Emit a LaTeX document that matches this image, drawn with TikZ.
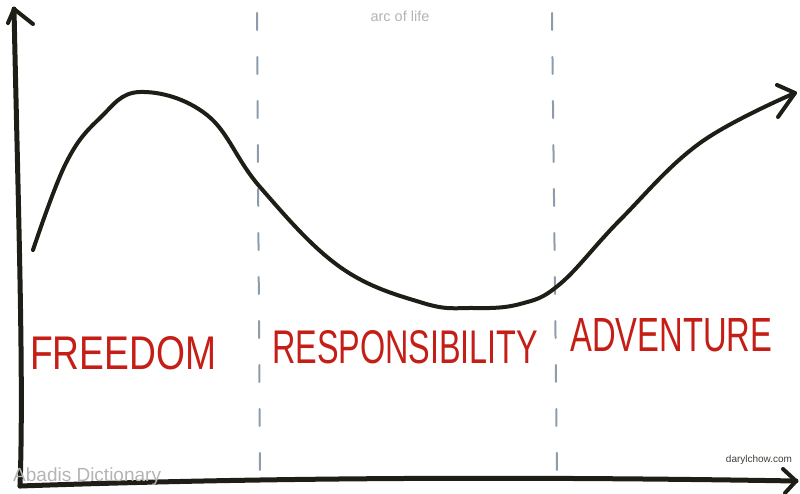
\documentclass[tikz,border=0pt]{standalone}
\usepackage{fontspec}
\setmainfont{Liberation Sans}
\usetikzlibrary{arrows.meta}
\definecolor{ink}{HTML}{1E1E16}
\definecolor{redink}{HTML}{C41E16}
\definecolor{dashblue}{HTML}{8C9CAA}
\definecolor{wm}{HTML}{B4B4B4}
\tikzset{
  axis/.style={draw=ink, line width=5pt, line cap=round, line join=round},
  divider/.style={draw=dashblue, line width=2pt, line cap=round, dash pattern=on 17pt off 27pt},
  label/.style={text=redink, inner sep=0pt, anchor=south west},
  barb/.style={draw=ink, line width=4pt, line cap=round, line join=round},
}
\begin{document}
\begin{tikzpicture}[x=1pt,y=-1pt]
\useasboundingbox (0,0) rectangle (800,494);
% named points
\coordinate (origin) at (20,486);
\coordinate (ytop) at (14,9);
\coordinate (xend) at (796,481);
\coordinate (cstart) at (33,250);
\coordinate (cend) at (795,93);
\coordinate (d1top) at (257,13);
\coordinate (d1bot) at (260,475);
\coordinate (d2top) at (552,13);
\coordinate (d2bot) at (557,475);
% dividers
\draw[divider] (d1top) -- (d1bot);
\draw[divider] (d2top) -- (d2bot);
% axes
\draw[axis] (ytop) .. controls (18,200) and (24,380) .. (origin);
\draw[axis] (origin) .. controls (250,478) and (500,476) .. (xend);
\draw[barb] (8,23) -- (ytop) -- (33,24);
\draw[barb] (783,469) -- (xend) -- (785,493);
% curve
\draw[axis, line width=4pt] plot[smooth, tension=0.65] coordinates {
 (cstart) (66,163) (100,118) (140,92) (207,115)
 (260,187) (340,267) (423,303)
 (473,308) (520,304) (560,284) (620,220)
 (700,143) (cend)};
\draw[barb] (777,85) -- (cend) -- (778,117);
% labels
\node[label] (freedom) at (30,370) {\resizebox{186pt}{33pt}{FREEDOM}};
\node[label] (resp) at (272,364) {\resizebox{266pt}{33pt}{RESPONSIBILITY}};
\node[label] (adv) at (570,352) {\resizebox{202pt}{33pt}{ADVENTURE}};
% watermark texts
\node[text=wm, font=\fontsize{14.5}{17}\selectfont] (title) at (400,16) {arc of life};
\node[text=ink!85, font=\fontsize{10}{12}\selectfont] (site) at (759,460) {darylchow.com};
\node[text=wm, font=\fontsize{19}{22}\selectfont, anchor=west, inner sep=0pt] (abadis) at (13,477) {Abadis Dictionary};
\end{tikzpicture}
\end{document}
